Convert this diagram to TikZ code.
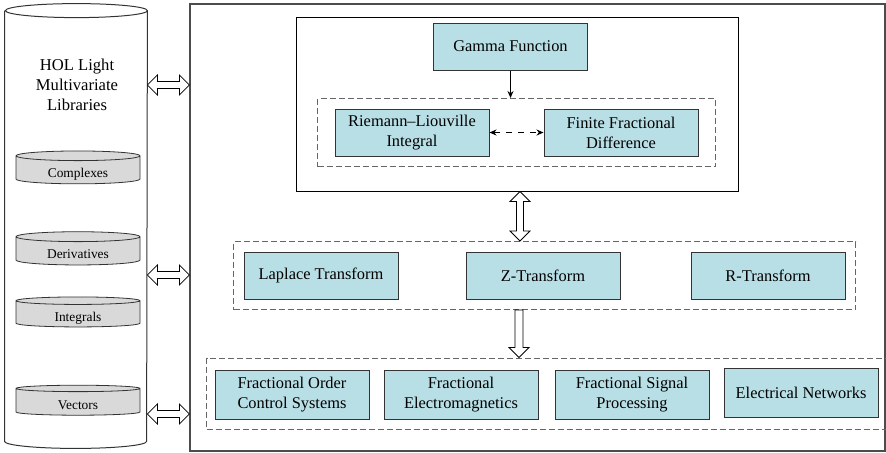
\documentclass[tikz,border=0pt]{standalone}
\usepackage{fontspec}
\setmainfont{Liberation Serif}
\usetikzlibrary{arrows.meta,positioning,calc,fit,shapes.geometric}
\definecolor{boxblue}{RGB}{185,223,230}
\definecolor{diskgray}{RGB}{217,217,217}

\begin{document}
\begin{tikzpicture}[
    x=0.5pt, y=-0.5pt,
    node distance=7pt and 7pt,
    box/.style={
        draw=black!80,
        fill=boxblue,
        line width=0.5pt,
        align=center,
        minimum width=77pt,
        minimum height=23.5pt,
        inner sep=1pt,
        font=\fontsize{8.2}{10}\selectfont
    },
    group/.style={
        draw=black!60,
        dash pattern=on 3pt off 1.5pt,
        line width=0.5pt,
        inner xsep=5pt,
        inner ysep=5pt
    },
    disk/.style={
        cylinder,
        shape border rotate=90,
        draw=black!80,
        fill=diskgray,
        aspect=0.16,
        minimum width=62pt,
        minimum height=15pt,
        inner sep=0pt,
        text height=8pt,
        text depth=1pt,
        font=\fontsize{6.7}{8}\selectfont
    },
    hdbl/.style={draw, fill=white, line width=0.4pt,
        to path={let \p1=(\tikztostart), \p2=(\tikztotarget) in
            (\x1,\y1) -- (\x1+5pt,\y1+5pt) -- (\x1+5pt,\y1+1.75pt) -- (\x2-5pt,\y1+1.75pt)
            -- (\x2-5pt,\y1+5pt) -- (\x2,\y1) -- (\x2-5pt,\y1-5pt) -- (\x2-5pt,\y1-1.75pt)
            -- (\x1+5pt,\y1-1.75pt) -- (\x1+5pt,\y1-5pt) -- cycle}},
    vdbl/.style={draw, fill=white, line width=0.4pt,
        to path={let \p1=(\tikztostart), \p2=(\tikztotarget) in
            (\x1,\y1) -- (\x1+5pt,\y1-5pt) -- (\x1+1.75pt,\y1-5pt) -- (\x1+1.75pt,\y2+5pt)
            -- (\x1+5pt,\y2+5pt) -- (\x1,\y2) -- (\x1-5pt,\y2+5pt) -- (\x1-1.75pt,\y2+5pt)
            -- (\x1-1.75pt,\y1-5pt) -- (\x1-5pt,\y1-5pt) -- cycle}},
    vsgl/.style={draw, fill=white, line width=0.4pt,
        to path={let \p1=(\tikztostart), \p2=(\tikztotarget) in
            (\x1-2pt,\y1) -- (\x1+2pt,\y1) -- (\x1+2pt,\y2+5pt) -- (\x1+5pt,\y2+5pt)
            -- (\x1,\y2) -- (\x1-5pt,\y2+5pt) -- (\x1-2pt,\y2+5pt) -- cycle}},
    >={Stealth[length=3.5pt,width=3pt]}
]
\useasboundingbox (0,0) rectangle (886,452);

% library cylinder
\node[minimum width=71pt, minimum height=222pt, inner sep=0pt] (lib) at (76,226) {};
\draw[draw=black!80, line width=0.5pt]
    ([yshift=-3.5pt]lib.north west) -- ([yshift=3.5pt]lib.south west)
    arc[start angle=180, end angle=360, x radius=35.5pt, y radius=3.5pt]
    -- ([yshift=-3.5pt]lib.north east)
    arc[start angle=0, end angle=180, x radius=35.5pt, y radius=3.5pt]
    arc[start angle=180, end angle=360, x radius=35.5pt, y radius=3.5pt];
\node[align=center, font=\fontsize{8.3}{10}\selectfont] (hol) at (77,85) {HOL Light\\Multivariate\\Libraries};
\node[disk] (cplx) at (78,170) {Complexes};
\node[disk] (deriv) at (78,251) {Derivatives};
\node[disk] (integ) at (78,314) {Integrals};
\node[disk] (vect) at (78,402) {Vectors};

% outer frame
\node[draw=black!70, line width=0.6pt, minimum width=347.5pt, minimum height=223.5pt, inner sep=0pt] (main) at (537.5,227.5) {};

% core block
\node[draw, line width=0.5pt, minimum width=221pt, minimum height=87pt, inner sep=0pt] (core) at (517,104) {};
\node[box] (gamma) at (510.5,46.5) {Gamma Function};
\node[box] (rl) at (412,132.5) {Riemann--Liouville\\Integral};
\node[box, right=27pt of rl] (ffd) {Finite Fractional\\Difference};
\node[group, inner xsep=8.5pt, fit=(rl) (ffd)] (calc) {};

% transforms
\node[box] (laplace) at (321,275.5) {Laplace Transform};
\node[box, right=33.5pt of laplace] (ztr) {Z-Transform};
\node[box, right=35pt of ztr] (rtr) {R-Transform};
\node[group, fit=(laplace) (rtr)] (trans) {};

% applications
\node[box, minimum height=24.5pt] (focs) at (292,394.5) {Fractional Order\\Control Systems};
\node[box, minimum height=24.5pt, right=7pt of focs] (fem) {Fractional\\Electromagnetics};
\node[box, minimum height=24.5pt, right=8pt of fem] (fsp) {Fractional Signal\\Processing};
\node[box, minimum height=24.5pt, right=7pt of fsp, yshift=0.75pt] (elec) {Electrical Networks};
\node[group, inner xsep=4pt, fit=(focs) (elec)] (apps) {};

\coordinate (lk2) at (0,275);
\coordinate (lk3) at (0,414);

\draw[->, line width=0.5pt] (gamma.south) -- (gamma.south |- calc.north);
\draw[<->, dashed, line width=0.5pt] (rl) -- (ffd);
\draw[vdbl] (core.south -| 520,0) to (trans.north -| 520,0);
\draw[vsgl] (trans.south -| 519,0) to (apps.north -| 519,0);
\draw[hdbl] (lib.east |- hol) to (main.west |- hol);
\draw[hdbl] (lib.east |- lk2) to (main.west |- lk2);
\draw[hdbl] (lib.east |- lk3) to (main.west |- lk3);

\end{tikzpicture}
\end{document}
